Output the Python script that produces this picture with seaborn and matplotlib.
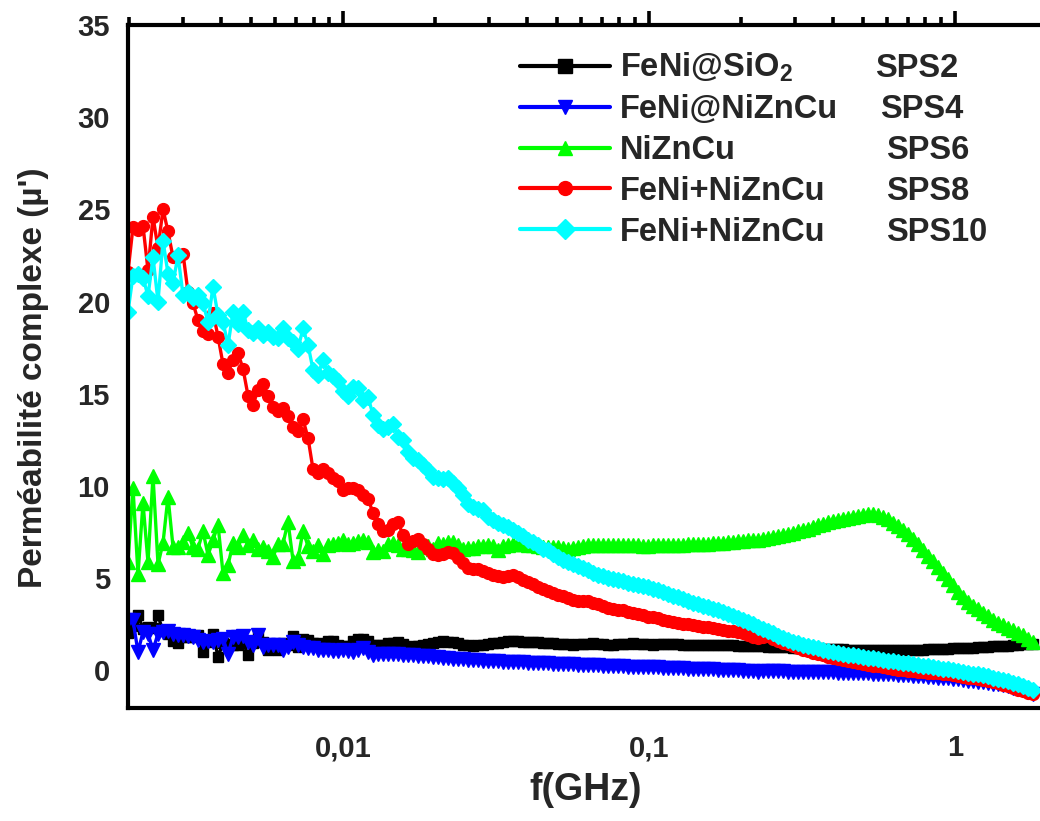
import numpy as np
import pandas as pd
import matplotlib
matplotlib.use("Agg")
import matplotlib.pyplot as plt
import seaborn as sns
from matplotlib.ticker import MultipleLocator, LogLocator, NullFormatter, FixedLocator, FixedFormatter

# ---------------- data ----------------
freq_ghz = np.geomspace(0.00198, 1.8, 182)   # log frequency sweep (GHz)

series_names = ["FeNi@SiO$_2$", "FeNi@NiZnCu", "NiZnCu", "FeNi+NiZnCu", "FeNi+NiZnCu"]
sps_labels = ["SPS2", "SPS4", "SPS6", "SPS8", "SPS10"]
series_colors = ["#000000", "#0000FF", "#00FF00", "#FF0000", "#00FFFF"]
series_markers = ["s", "v", "^", "o", "D"]
x_tick_values = [0.01, 0.1, 1]
x_tick_labels = ["0,01", "0,1", "1"]

mu_sps2 = [
    2.0, 2.4, 3.0, 2.26, 2.35, 2.3, 2.97, 2.1, 1.99, 1.6,
    1.5, 1.81, 1.81, 1.81, 1.9, 0.99, 1.54, 1.95, 0.74, 1.45,
    1.42, 1.39, 1.39, 1.54, 0.81, 1.45, 1.9, 1.54, 1.09, 1.36,
    1.09, 1.45, 1.36, 1.84, 1.27, 1.72, 1.63, 1.45, 1.45, 1.39,
    1.57, 1.57, 1.36, 1.3, 1.32, 1.6, 1.72, 1.72, 1.6, 1.36,
    1.38, 1.39, 1.45, 1.5, 1.54, 1.4, 1.27, 1.3, 1.33, 1.36,
    1.4, 1.45, 1.52, 1.57, 1.55, 1.54, 1.46, 1.39, 1.35, 1.32,
    1.36, 1.39, 1.42, 1.45, 1.5, 1.54, 1.56, 1.57, 1.56, 1.55,
    1.54, 1.54, 1.52, 1.5, 1.47, 1.45, 1.43, 1.41, 1.4, 1.39,
    1.41, 1.43, 1.44, 1.45, 1.42, 1.4, 1.39, 1.39, 1.41, 1.43,
    1.44, 1.45, 1.43, 1.41, 1.4, 1.39, 1.4, 1.41, 1.41, 1.4,
    1.4, 1.39, 1.39, 1.38, 1.38, 1.37, 1.37, 1.37, 1.36, 1.36,
    1.35, 1.35, 1.34, 1.33, 1.32, 1.31, 1.3, 1.29, 1.28, 1.27,
    1.26, 1.25, 1.24, 1.23, 1.22, 1.21, 1.2, 1.19, 1.18, 1.17,
    1.16, 1.15, 1.14, 1.13, 1.12, 1.12, 1.11, 1.11, 1.1, 1.1,
    1.1, 1.1, 1.1, 1.1, 1.1, 1.1, 1.11, 1.11, 1.12, 1.12,
    1.13, 1.14, 1.15, 1.16, 1.17, 1.18, 1.19, 1.2, 1.21, 1.23,
    1.24, 1.26, 1.27, 1.29, 1.3, 1.32, 1.34, 1.36, 1.38, 1.4,
    1.42, 1.44,
]

mu_sps4 = [
    2.7, 2.71, 0.99, 2.08, 1.99, 1.09, 1.99, 2.08, 2.15, 1.99,
    1.93, 1.93, 1.86, 1.81, 1.63, 1.54, 1.57, 1.54, 1.63, 1.72,
    0.9, 1.81, 1.81, 1.86, 1.54, 1.36, 1.9, 1.27, 1.39, 1.39,
    1.36, 1.09, 1.27, 1.54, 1.36, 1.27, 1.21, 1.18, 1.09, 1.09,
    1.09, 1.03, 1.03, 1.09, 1.05, 1.0, 1.1, 1.18, 1.0, 0.81,
    0.88, 0.9, 0.9, 0.9, 0.88, 0.85, 0.83, 0.81, 0.79, 0.77,
    0.75, 0.72, 0.7, 0.68, 0.65, 0.63, 0.61, 0.59, 0.56, 0.54,
    0.53, 0.51, 0.5, 0.49, 0.48, 0.47, 0.46, 0.45, 0.44, 0.42,
    0.41, 0.4, 0.39, 0.38, 0.37, 0.36, 0.35, 0.34, 0.33, 0.31,
    0.3, 0.29, 0.28, 0.27, 0.26, 0.25, 0.24, 0.23, 0.22, 0.21,
    0.2, 0.19, 0.18, 0.18, 0.17, 0.16, 0.15, 0.14, 0.13, 0.12,
    0.11, 0.1, 0.09, 0.08, 0.07, 0.06, 0.05, 0.04, 0.03, 0.02,
    0.01, 0.0, -0.01, -0.02, -0.03, -0.04, -0.12, -0.05, -0.06, -0.06,
    -0.07, -0.07, -0.08, -0.08, -0.09, -0.09, -0.1, -0.1, -0.11, -0.11,
    -0.12, -0.12, -0.13, -0.14, -0.14, -0.15, -0.15, -0.16, -0.17, -0.18,
    -0.19, -0.2, -0.21, -0.22, -0.24, -0.26, -0.28, -0.3, -0.32, -0.34,
    -0.36, -0.38, -0.4, -0.42, -0.44, -0.47, -0.5, -0.53, -0.56, -0.59,
    -0.62, -0.65, -0.69, -0.73, -0.77, -0.82, -0.88, -0.94, -1.01, -1.09,
    -1.18, -1.3,
]

mu_sps6 = [
    5.85, 9.9, 5.2, 9.08, 5.85, 10.55, 5.75, 6.9, 9.42, 6.69,
    6.66, 6.96, 7.45, 6.66, 6.6, 7.53, 6.24, 7.05, 7.9, 5.25,
    5.7, 6.9, 6.69, 7.33, 6.78, 7.09, 6.55, 6.66, 6.47, 6.15,
    6.84, 6.87, 8.05, 5.95, 6.06, 7.56, 6.73, 6.48, 6.8, 6.33,
    6.78, 6.85, 6.9, 7.05, 6.86, 6.88, 7.0, 7.05, 6.95, 6.42,
    6.51, 6.45, 6.87, 6.92, 6.78, 6.6, 6.55, 6.51, 6.42, 6.7,
    6.75, 6.6, 6.9, 6.87, 6.93, 6.95, 6.8, 6.6, 6.62, 6.65,
    6.72, 6.75, 6.78, 6.74, 6.51, 6.74, 6.78, 6.83, 6.87, 6.84,
    6.78, 6.77, 6.72, 6.7, 6.68, 6.66, 6.7, 6.64, 6.6, 6.64,
    6.69, 6.73, 6.77, 6.78, 6.8, 6.8, 6.8, 6.79, 6.79, 6.78,
    6.78, 6.77, 6.77, 6.76, 6.76, 6.77, 6.77, 6.78, 6.78, 6.79,
    6.79, 6.8, 6.82, 6.83, 6.84, 6.85, 6.86, 6.88, 6.89, 6.9,
    6.93, 6.96, 6.99, 7.02, 7.04, 7.06, 7.08, 7.1, 7.15, 7.2,
    7.26, 7.33, 7.39, 7.46, 7.53, 7.6, 7.68, 7.77, 7.86, 7.95,
    8.03, 8.1, 8.16, 8.22, 8.28, 8.33, 8.38, 8.42, 8.45, 8.45,
    8.42, 8.33, 8.18, 7.98, 7.8, 7.6, 7.38, 7.12, 6.82, 6.52,
    6.22, 5.94, 5.6, 5.25, 4.95, 4.62, 4.25, 3.97, 3.72, 3.5,
    3.3, 3.1, 2.92, 2.74, 2.58, 2.44, 2.3, 2.17, 2.03, 1.9,
    1.72, 1.55,
]

mu_sps8 = [
    21.6, 24.05, 23.9, 24.1, 21.7, 24.6, 22.9, 25.0, 23.8, 22.4,
    22.4, 22.6, 20.5, 19.9, 19.0, 18.4, 18.25, 19.4, 18.1, 16.6,
    16.1, 16.85, 17.2, 16.35, 14.9, 14.4, 15.2, 15.5, 14.9, 14.3,
    14.05, 14.2, 13.8, 13.2, 12.95, 13.6, 12.6, 10.9, 10.7, 10.9,
    10.7, 10.4, 10.25, 9.77, 9.9, 9.86, 9.75, 9.5, 9.28, 8.55,
    7.95, 7.57, 7.6, 7.92, 8.05, 7.32, 6.87, 7.0, 7.12, 6.87,
    6.6, 6.33, 6.24, 6.33, 6.42, 6.38, 6.1, 5.83, 5.56, 5.47,
    5.49, 5.36, 5.25, 5.15, 5.1, 5.08, 5.12, 5.15, 5.04, 4.88,
    4.79, 4.67, 4.52, 4.38, 4.3, 4.19, 4.1, 4.0, 3.93, 3.83,
    3.78, 3.76, 3.74, 3.67, 3.58, 3.48, 3.4, 3.32, 3.28, 3.24,
    3.18, 3.1, 3.05, 2.97, 2.9, 2.87, 2.84, 2.75, 2.68, 2.62,
    2.57, 2.53, 2.5, 2.45, 2.4, 2.36, 2.32, 2.29, 2.26, 2.2,
    2.14, 2.11, 2.08, 2.0, 1.92, 1.82, 1.74, 1.8, 1.84, 1.72,
    1.6, 1.5, 1.42, 1.32, 1.22, 1.12, 1.02, 0.95, 0.88, 0.8,
    0.73, 0.67, 0.6, 0.53, 0.48, 0.43, 0.39, 0.35, 0.3, 0.25,
    0.22, 0.18, 0.12, 0.07, 0.03, 0.0, -0.03, -0.06, -0.08, -0.1,
    -0.13, -0.15, -0.17, -0.19, -0.23, -0.27, -0.31, -0.36, -0.4, -0.44,
    -0.49, -0.54, -0.6, -0.66, -0.72, -0.8, -0.88, -0.96, -1.05, -1.13,
    -1.22, -1.3,
]

mu_sps10 = [
    19.45, 21.4, 21.5, 21.3, 20.3, 22.4, 20.0, 23.3, 21.5, 21.0,
    22.5, 20.35, 20.5, 20.2, 20.35, 19.9, 18.9, 20.8, 19.26, 18.9,
    17.63, 19.44, 18.8, 19.44, 18.45, 18.27, 18.54, 18.18, 18.36, 18.08,
    18.0, 18.54, 18.0, 17.8, 17.45, 18.54, 17.65, 16.3, 16.0, 16.85,
    16.1, 15.95, 15.67, 15.15, 14.87, 15.38, 15.3, 14.65, 14.83, 13.84,
    13.3, 13.1, 13.2, 13.35, 12.66, 12.48, 11.85, 11.49, 11.4, 11.12,
    10.85, 10.49, 10.4, 10.35, 10.4, 10.16, 9.86, 9.5, 9.04, 8.86,
    8.77, 8.68, 8.32, 8.14, 7.96, 7.87, 7.78, 7.6, 7.45, 7.27,
    7.09, 6.96, 6.78, 6.6, 6.5, 6.33, 6.15, 6.0, 5.88, 5.75,
    5.64, 5.52, 5.43, 5.3, 5.17, 5.1, 5.02, 4.94, 4.88, 4.82,
    4.74, 4.67, 4.63, 4.58, 4.5, 4.42, 4.33, 4.23, 4.14, 4.04,
    3.95, 3.86, 3.77, 3.67, 3.58, 3.5, 3.42, 3.34, 3.26, 3.17,
    3.07, 2.96, 2.84, 2.72, 2.6, 2.48, 2.36, 2.25, 2.12, 2.0,
    1.87, 1.76, 1.65, 1.55, 1.45, 1.37, 1.3, 1.24, 1.18, 1.12,
    1.06, 1.0, 0.95, 0.9, 0.85, 0.8, 0.76, 0.72, 0.68, 0.64,
    0.6, 0.56, 0.52, 0.48, 0.45, 0.41, 0.37, 0.33, 0.29, 0.25,
    0.21, 0.17, 0.13, 0.09, 0.05, 0.01, -0.04, -0.09, -0.13, -0.18,
    -0.23, -0.28, -0.34, -0.4, -0.46, -0.53, -0.6, -0.68, -0.77, -0.86,
    -0.96, -1.08,
]

all_series = [mu_sps2, mu_sps4, mu_sps6, mu_sps8, mu_sps10]

# ---------------- style ----------------
sns.set_style("white")
plt.rcParams["font.family"] = ["Liberation Sans", "DejaVu Sans"]
plt.rcParams["font.weight"] = "bold"
plt.rcParams["mathtext.fontset"] = "custom"
plt.rcParams["mathtext.rm"] = "Liberation Sans:bold"
plt.rcParams["mathtext.default"] = "rm"

frames = []
for sps, vals in zip(sps_labels, all_series):
    frames.append(pd.DataFrame({"f": freq_ghz, "mu": vals, "sample": sps}))
df = pd.concat(frames, ignore_index=True)

fig = plt.figure(figsize=(10.40, 8.21), dpi=100)
ax = fig.add_axes([128 / 1040, 1 - 708 / 821, (1040 - 128) / 1040, (708 - 25) / 821])

sns.lineplot(
    data=df, x="f", y="mu", hue="sample", style="sample",
    hue_order=sps_labels, style_order=sps_labels,
    palette=series_colors, markers=series_markers, dashes=False,
    estimator=None, sort=False, linewidth=2.4, markersize=9,
    markeredgewidth=0, legend=False, ax=ax,
)
marker_sizes = {"s": 7.5, "v": 9.5, "^": 9.5, "o": 8.5, "D": 8.5}
for ln, mk, col in zip(ax.lines, series_markers, series_colors):
    ln.set_markersize(marker_sizes[mk])
    ln.set_markeredgecolor(col)
    ln.set_markeredgewidth(1.0)

ax.set_xscale("log")
ax.set_xlim(0.00198, 1.896)
ax.set_ylim(-2.05, 35)

ax.xaxis.set_major_locator(FixedLocator(x_tick_values))
ax.xaxis.set_major_formatter(FixedFormatter(x_tick_labels))
ax.xaxis.set_minor_locator(LogLocator(base=10, subs=np.arange(2, 10)))
ax.xaxis.set_minor_formatter(NullFormatter())
ax.yaxis.set_major_locator(MultipleLocator(5))
ax.yaxis.set_minor_locator(MultipleLocator(2.5))

ax.tick_params(axis="both", which="major", direction="out", length=10, width=2.6,
               labelsize=21, color="black")
ax.tick_params(axis="both", which="minor", direction="out", length=6, width=2.6, color="black")
ax.tick_params(axis="x", which="both", top=True, labeltop=False, pad=9)
ax.tick_params(axis="y", which="both", right=False, pad=3)
for lab in ax.get_xticklabels() + ax.get_yticklabels():
    lab.set_fontweight("bold")

for side in ["left", "bottom", "top"]:
    ax.spines[side].set_linewidth(3.0)
    ax.spines[side].set_color("black")
ax.spines["right"].set_visible(False)

ax.set_xlabel("f(GHz)", fontsize=27, fontweight="bold")
ax.set_ylabel("Perméabilité complexe (µ')", fontsize=24, fontweight="bold")
ax.xaxis.set_label_coords(0.502, -0.093)
ax.yaxis.set_label_coords(-0.087, 0.483)

# legend
handles = list(ax.lines[:5])
leg = ax.legend(
    handles, series_names, loc="upper left",
    bbox_to_anchor=(520 / 1040, 1 - 51 / 821), bbox_transform=fig.transFigure,
    frameon=False, fontsize=23.5, handlelength=2.75, handletextpad=0.32,
    labelspacing=0.3, borderpad=0, borderaxespad=0, numpoints=1,
)
for t in leg.get_texts():
    t.set_fontweight("bold")
for h in leg.legend_handles:
    h.set_linewidth(3.0)
    h.set_markersize(10)

fig.canvas.draw()
sps_x = [875, 880, 886, 886, 886]
texts = leg.get_texts()
bbs = [t.get_window_extent() for t in texts]
pitch = bbs[2].y0 - bbs[3].y0
for k, (lab, xp) in enumerate(zip(sps_labels, sps_x)):
    if k == 0:
        y0 = bbs[1].y0 + pitch
    else:
        y0 = bbs[k].y0
    fig.text(xp / 1040, y0 / fig.bbox.height, lab, fontsize=23.5, fontweight="bold",
             ha="left", va="bottom")

fig.savefig("out.png", dpi=100)
